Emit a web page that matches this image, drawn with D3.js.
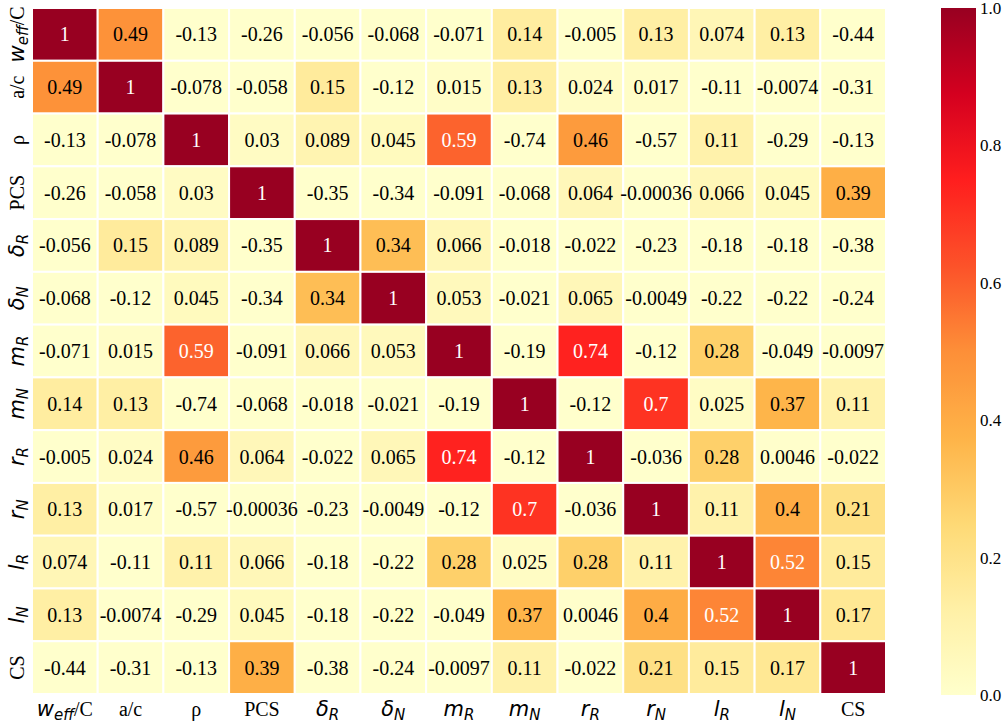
<!DOCTYPE html>
<html>
<head>
<meta charset="utf-8">
<script src="https://cdn.jsdelivr.net/npm/d3@7"></script>
<style>
body { margin: 0; background: #fff; }
</style>
</head>
<body>
<svg id="chart" width="1003" height="725"></svg>
<script>
// variable names: [symbol, subscript, suffix]  (symbol drawn as math italic unless plain)
var labels = [
  ["w", "eff", "/C"], ["a/c"], ["ρ"], ["PCS"], ["δ", "R"], ["δ", "N"],
  ["m", "R"], ["m", "N"], ["r", "R"], ["r", "N"], ["l", "R"], ["l", "N"], ["CS"]
];

var corr = [
  [1, 0.49, -0.13, -0.26, -0.056, -0.068, -0.071, 0.14, -0.005, 0.13, 0.074, 0.13, -0.44],
  [0.49, 1, -0.078, -0.058, 0.15, -0.12, 0.015, 0.13, 0.024, 0.017, -0.11, -0.0074, -0.31],
  [-0.13, -0.078, 1, 0.03, 0.089, 0.045, 0.59, -0.74, 0.46, -0.57, 0.11, -0.29, -0.13],
  [-0.26, -0.058, 0.03, 1, -0.35, -0.34, -0.091, -0.068, 0.064, -0.00036, 0.066, 0.045, 0.39],
  [-0.056, 0.15, 0.089, -0.35, 1, 0.34, 0.066, -0.018, -0.022, -0.23, -0.18, -0.18, -0.38],
  [-0.068, -0.12, 0.045, -0.34, 0.34, 1, 0.053, -0.021, 0.065, -0.0049, -0.22, -0.22, -0.24],
  [-0.071, 0.015, 0.59, -0.091, 0.066, 0.053, 1, -0.19, 0.74, -0.12, 0.28, -0.049, -0.0097],
  [0.14, 0.13, -0.74, -0.068, -0.018, -0.021, -0.19, 1, -0.12, 0.7, 0.025, 0.37, 0.11],
  [-0.005, 0.024, 0.46, 0.064, -0.022, 0.065, 0.74, -0.12, 1, -0.036, 0.28, 0.0046, -0.022],
  [0.13, 0.017, -0.57, -0.00036, -0.23, -0.0049, -0.12, 0.7, -0.036, 1, 0.11, 0.4, 0.21],
  [0.074, -0.11, 0.11, 0.066, -0.18, -0.22, 0.28, 0.025, 0.28, 0.11, 1, 0.52, 0.15],
  [0.13, -0.0074, -0.29, 0.045, -0.18, -0.22, -0.049, 0.37, 0.0046, 0.4, 0.52, 1, 0.17],
  [-0.44, -0.31, -0.13, 0.39, -0.38, -0.24, -0.0097, 0.11, -0.022, 0.21, 0.15, 0.17, 1]
];

var cbarTicks = [0, 0.2, 0.4, 0.6, 0.8, 1.0];

// YlOrRd-like ramp as it appears in the picture (a bit more saturated)
var cmapColors = ["#ffffcc", "#fff0a6", "#fed975", "#feb348", "#fd8f38",
                  "#fc5229", "#ff1e1e", "#d4001f", "#980021"];

var serif = "'Liberation Serif', 'Times New Roman', serif";
var sans = "'DejaVu Sans', sans-serif";

var svg = d3.select("#chart");
var mLeft = 32, mTop = 8, mRight = 886, mBottom = 694;
var idx = d3.range(labels.length);

var x = d3.scaleBand().domain(idx).range([mLeft, mRight]);
var y = d3.scaleBand().domain(idx).range([mTop, mBottom]);
var color = d3.scaleLinear()
  .domain(d3.range(cmapColors.length).map(k => k / (cmapColors.length - 1)))
  .range(cmapColors)
  .interpolate(d3.interpolateRgb)
  .clamp(true);

var cells = [];
corr.forEach(function(row, i) {
  row.forEach(function(v, j) { cells.push({i: i, j: j, v: v}); });
});

svg.append("g").selectAll("rect")
  .data(cells).enter().append("rect")
  .attr("x", d => x(d.j))
  .attr("y", d => y(d.i))
  .attr("width", x.bandwidth())
  .attr("height", y.bandwidth())
  .attr("fill", d => color(d.v))
  .attr("stroke", "#fff")
  .attr("stroke-width", 2);

svg.append("g").selectAll("text")
  .data(cells).enter().append("text")
  .attr("x", d => x(d.j) + x.bandwidth() / 2)
  .attr("y", d => y(d.i) + y.bandwidth() / 2)
  .attr("text-anchor", "middle")
  .attr("dominant-baseline", "central")
  .attr("font-family", serif)
  .attr("font-size", 20)
  .attr("fill", d => d.v > 0.5 ? "#fff" : "#000")
  .text(d => String(d.v));

// build a label with mathtext-like parts
function fillLabel(t, lab) {
  if (lab.length === 1) {
    t.append("tspan").attr("font-family", serif).attr("font-size", 20).text(lab[0]);
    return;
  }
  t.append("tspan").attr("font-family", sans).attr("font-style", "italic")
    .attr("font-size", 21).text(lab[0]);
  t.append("tspan").attr("font-family", sans).attr("font-style", "italic")
    .attr("font-size", 15).attr("dy", 4).text(lab[1]);
  if (lab[2]) {
    t.append("tspan").attr("font-family", serif).attr("font-size", 20)
      .attr("dy", -4).text(lab[2]);
  }
}

svg.append("g").selectAll("text")
  .data(idx).enter().append("text")
  .attr("x", d => x(d) + x.bandwidth() / 2)
  .attr("y", 716)
  .attr("text-anchor", "middle")
  .each(function(d) { fillLabel(d3.select(this), labels[d]); });

svg.append("g").selectAll("text")
  .data(idx).enter().append("text")
  .attr("transform", d => "translate(24," + (y(d) + y.bandwidth() / 2) + ") rotate(-90)")
  .attr("text-anchor", "middle")
  .each(function(d) { fillLabel(d3.select(this), labels[d]); });

// colorbar
var cbX = 941, cbW = 35;
var cy = d3.scaleLinear().domain([0, 1]).range([695, 8]);
var grad = svg.append("defs").append("linearGradient")
  .attr("id", "cbar").attr("x1", 0).attr("y1", 1).attr("x2", 0).attr("y2", 0);
d3.range(0, 1.0001, 0.025).forEach(function(s) {
  grad.append("stop").attr("offset", s).attr("stop-color", color(s));
});
svg.append("rect")
  .attr("x", cbX).attr("y", cy(1))
  .attr("width", cbW).attr("height", cy(0) - cy(1))
  .attr("fill", "url(#cbar)");

var axis = d3.axisRight(cy).tickValues(cbarTicks).tickFormat(d3.format(".1f"))
  .tickSize(0).tickPadding(4);
var ag = svg.append("g").attr("transform", "translate(" + (cbX + cbW) + ",0)").call(axis);
ag.select(".domain").remove();
ag.selectAll("text").attr("font-family", serif).attr("font-size", 17).attr("fill", "#000");
</script>
</body>
</html>
